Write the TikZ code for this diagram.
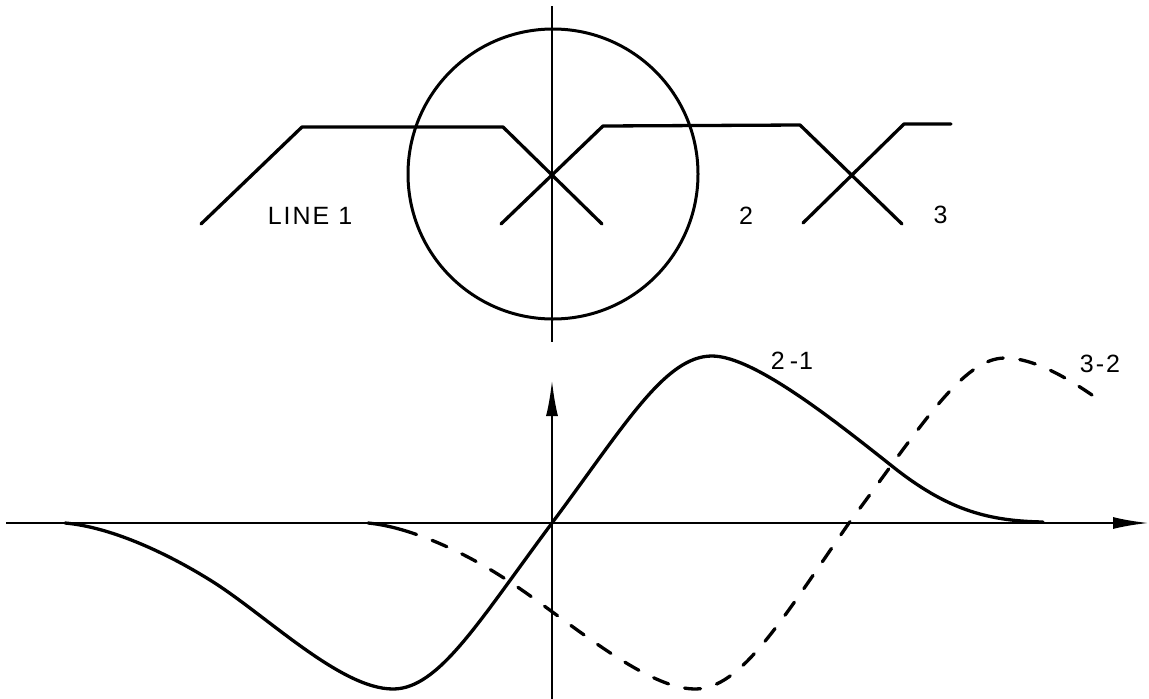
\documentclass[tikz,border=0pt]{standalone}
\usepackage{fontspec}
\setmainfont{Liberation Sans}[LetterSpace=8]
\usetikzlibrary{arrows.meta}
\tikzset{ln/.style={line width=3.3pt,black,line cap=round,line join=round},
axis ln/.style={line width=2.5pt,black},
lbl/.style={font=\fontsize{25}{25}\selectfont,inner sep=0pt,text=black},
tipA/.style={-{Latex[length=36pt,width=12pt]}}}
\begin{document}
\begin{tikzpicture}[x=1pt,y=-1pt]
\useasboundingbox (0,0) rectangle (1149,699);
\draw[axis ln] (552,6) -- (552,342);
\node[draw,circle,line width=3pt,minimum size=290pt,inner sep=0pt] (circ) at (553,174) {};
\draw[ln] (201,224) -- (302,127) -- (503,127) -- (602,224);
\draw[ln] (501,224) -- (603,126) -- (800,125) -- (902,224);
\draw[ln] (803,223) -- (904,124) -- (951,124);
\node[lbl] (l1) at (310,216) {LINE 1};
\node[lbl] (l2) at (746,215.5) {2};
\node[lbl] (l3) at (940.5,215) {3};
\node[lbl] (l21) at (792,361) {2\kern5pt-\kern1pt 1};
\node[lbl] (l32) at (1100,363.5) {3\kern2pt-\kern2pt 2};
\coordinate (xs) at (6,523); \coordinate (xe) at (1149,523);
\coordinate (ys) at (552,699); \coordinate (ye) at (552,380);
\draw[axis ln,tipA] (xs) -- (xe);
\draw[axis ln,tipA] (ys) -- (ye);
\draw[ln] (65,523) .. controls (110,527) and (165,552) .. (210,580)
 .. controls (265,614) and (340,689) .. (393,689)
 .. controls (439,689) and (479,621) .. (552,523)
 .. controls (625,425) and (665,356) .. (712,356)
 .. controls (755,356) and (840,425) .. (897,470)
 .. controls (950,511) and (990,521) .. (1043,522);
\draw[ln,dash pattern=on 50pt off 16.67pt on 16pt off 16.67pt on 16pt off 16.67pt on 16pt off 16.67pt on 16pt off 16.67pt on 16pt off 16.67pt on 16pt off 16.67pt on 16pt off 16.67pt on 16pt off 16.67pt on 16pt off 16.67pt on 16pt off 16.67pt on 16pt off 16.67pt on 16pt off 16.67pt on 16pt off 16.67pt on 16pt off 16.67pt on 16pt off 16.67pt on 16pt off 16.67pt on 16pt off 16.67pt on 16pt off 16.67pt on 16pt off 16.67pt on 16pt off 16.67pt on 16pt off 16.67pt on 16pt off 16.67pt on 16pt off 16.67pt on 16pt off 16.67pt on 16pt off 16.67pt on 16pt off 16.67pt on 16pt off 16.67pt on 16pt off 16.67pt on 16pt off 16.67pt on 40pt off 300pt]
 (368,523) .. controls (410,527) and (465,552) .. (510,582)
 .. controls (565,618) and (645,689) .. (695,689)
 .. controls (741,689) and (781,621) .. (849,523)
 .. controls (922,425) and (963,358) .. (1005,358)
 .. controls (1035,358) and (1070,380) .. (1092,395);
\end{tikzpicture}
\end{document}
